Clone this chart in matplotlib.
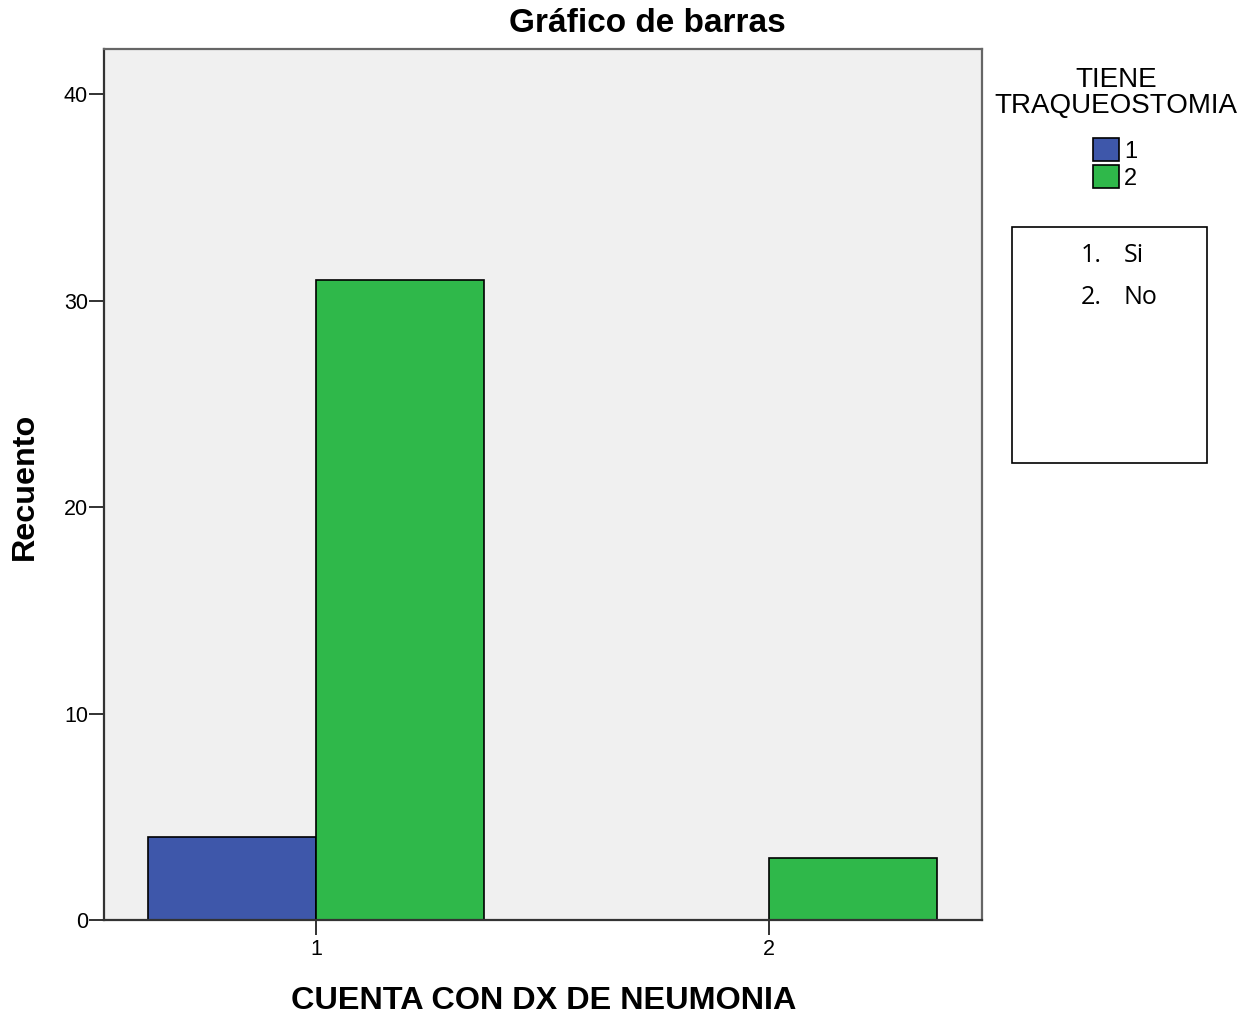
import matplotlib
matplotlib.use("Agg")
import matplotlib.pyplot as plt
from matplotlib.patches import Patch, Rectangle
import numpy as np

# Data: counts by pneumonia diagnosis, split by tracheostomy
categories = ["1", "2"]
traqueostomia_levels = ["1", "2"]
counts_si = [4, 0]
counts_no = [31, 3]
y_ticks = [0, 10, 20, 30, 40]

blue = "#3E57AA"
green = "#2FB84A"
panel_bg = "#F0F0F0"

plt.rcParams["font.family"] = ["Liberation Sans", "DejaVu Sans"]

fig = plt.figure(figsize=(12.56, 10.18), dpi=100)
ax = fig.add_axes([104 / 1256, 1 - 920 / 1018, (982 - 104) / 1256, (920 - 49) / 1018])
ax.set_facecolor(panel_bg)

x = np.arange(1, len(categories) + 1)
width = 0.371
for xi, v in zip(x, counts_si):
    if v > 0:
        ax.bar(xi - width / 2, v, width, color=blue, edgecolor="black", linewidth=1.2)
for xi, v in zip(x, counts_no):
    if v > 0:
        ax.bar(xi + width / 2, v, width, color=green, edgecolor="black", linewidth=1.2)

ax.set_xlim(0.532, 2.470)
ax.set_ylim(0, 42.2)
ax.set_xticks(x)
ax.set_xticklabels(categories)
ax.set_yticks(y_ticks)
ax.tick_params(axis="both", direction="out", length=10.5, width=1.3, labelsize=15.5, color="#222222")
ax.tick_params(axis="y", pad=1)
ax.tick_params(axis="x", pad=3)
for side in ["left", "right", "bottom", "top"]:
    ax.spines[side].set_linewidth(1.6)
    ax.spines[side].set_color("#333333")
ax.spines["top"].set_color("#666666")
ax.spines["right"].set_color("#666666")

fig.text(647 / 1256, 1 - 24 / 1018, "Gráfico de barras", fontsize=24, fontweight="bold",
         ha="center", va="center")
fig.text(544 / 1256, 1 - 1001 / 1018, "CUENTA CON DX DE NEUMONIA", fontsize=23.3,
         fontweight="bold", ha="center", va="center")
fig.text(25 / 1256, 1 - 486 / 1018, "Recuento", fontsize=23.3, fontweight="bold",
         ha="center", va="center", rotation=90)

# Legend for tracheostomy groups
fig.text(1116 / 1256, 1 - 93 / 1018, "TIENE\nTRAQUEOSTOMIA", ha="center", va="center",
         fontsize=20, linespacing=1.02)
handles = [Patch(facecolor=blue, edgecolor="black", linewidth=1.2, label=traqueostomia_levels[0]),
           Patch(facecolor=green, edgecolor="black", linewidth=1.2, label=traqueostomia_levels[1])]
fig.legend(handles=handles, loc="center", bbox_to_anchor=(1115 / 1256, 1 - 164 / 1018),
           frameon=False, fontsize=17, handlelength=1.1, handleheight=1.1,
           handletextpad=0.2, labelspacing=0.1, borderpad=0)

# Value-label key box
fig.patches.append(Rectangle((1012 / 1256, 1 - 463 / 1018), 195 / 1256, 236 / 1018,
                             transform=fig.transFigure, facecolor="white",
                             edgecolor="black", linewidth=1.2))
key_font = dict(fontsize=18, va="center", family="Open Sans")
fig.text(1081 / 1256, 1 - 256 / 1018, "1.", **key_font)
fig.text(1124 / 1256, 1 - 256 / 1018, "Si", **key_font)
fig.text(1081 / 1256, 1 - 298 / 1018, "2.", **key_font)
fig.text(1124 / 1256, 1 - 298 / 1018, "No", **key_font)

fig.savefig("out.png", dpi=100, facecolor="white")
